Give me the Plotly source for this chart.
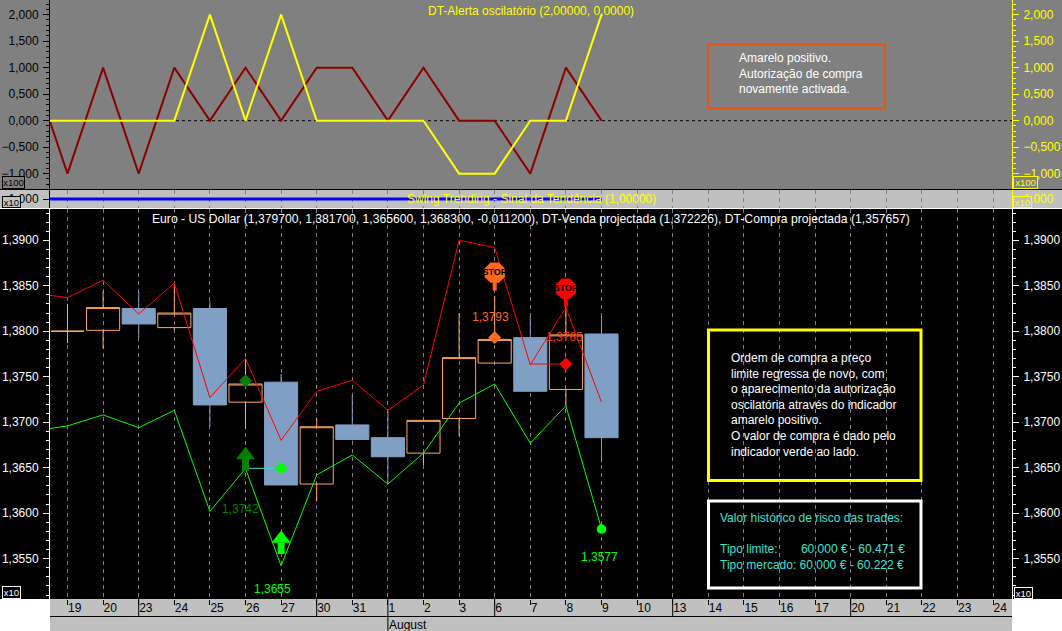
import plotly.graph_objects as go

# dates on the bottom axis
days = ["19", "20", "23", "24", "25", "26", "27", "30", "31", "1", "2", "3", "6", "7", "8", "9",
        "10", "13", "14", "15", "16", "17", "20", "21", "22", "23", "24"]
idx = list(range(len(days)))
week_starts = [2, 7, 12, 17, 22]
month_start = 9

# candles
open_ = [1.3800, 1.3801, 1.3825, 1.3804, 1.3825, 1.3722, 1.3744, 1.3632, 1.3697, 1.3683, 1.3666, 1.3704,
         1.3765, 1.3793, 1.3736, 1.3797]
high = [1.3830, 1.3844, 1.3844, 1.3853, 1.3833, 1.3770, 1.3753, 1.3704, 1.3730, 1.3712, 1.3702, 1.3820,
        1.3839, 1.3817, 1.3826, 1.3817]
low = [1.3787, 1.3781, 1.3793, 1.3801, 1.3695, 1.3693, 1.3631, 1.3613, 1.3680, 1.3633, 1.3653, 1.3685,
       1.3765, 1.3734, 1.3718, 1.3656]
close = [1.3800, 1.3826, 1.3808, 1.3820, 1.3719, 1.3742, 1.3631, 1.3695, 1.3681, 1.3662, 1.3702, 1.3771,
         1.3791, 1.3734, 1.3796, 1.3683]

# projected lines, they start one bar before the first visible date
line_x = list(range(-1, 16))
sell_line = [1.3842, 1.3837, 1.3856, 1.3819, 1.3853, 1.3727, 1.3770, 1.3680, 1.3734, 1.3746, 1.3713, 1.3741,
             1.3900, 1.3892, 1.3763, 1.3826, 1.3722]
buy_line = [1.3690, 1.3696, 1.3708, 1.3694, 1.3713, 1.3602, 1.3649, 1.3542, 1.3642, 1.3664, 1.3632, 1.3666,
            1.3721, 1.3742, 1.3677, 1.3718, 1.3583]

# oscillators
osc_red = [1, -1, 1, -1, 1, 0, 1, 0, 1, 1, 0, 1, 0, 0, -1, 1, 0]
osc_yellow = [0, 0, 0, 0, 0, 2, 0, 2, 0, 0, 0, 0, -1, -1, 0, 0, 2]
swing = [1, 1]

# signal markers
buy_diamond = [5, 1.37456]
buy_level = [5, 6, 1.36493]
sell_diamond = [12, 1.3793]
sell_level = [13, 14, 1.3764]
arrow_dark = [5, 1.36639, 1.36606, 1.36466]
arrow_bright = [6, 1.35719, 1.35675, 1.35551]
stop_orange = [12, 1.38644, 1.38446]
stop_red = [14, 1.38468, 1.3827]
last_buy = [15, 1.35825]

W, H = 1062, 631
L, R, B = 50, 1012, 599
BG_TOP = "#808080"
BG_MID = "#c0c0c0"
ORANGE = "#ffa860"
BLUE = "#7f9fc4"
TURQ = "#40e0d0"
FONT = "Liberation Sans"

x_range = [(L - 67.5) / 35.6, (R - 67.5) / 35.6]
main_range = [1.35056, 1.39344]
osc_range = [-1.289, 2.277]
swing_range = [0.45, 1.55]
swing_x = [x_range[0], 15]


def px(x):
    return (x - L) / (R - L)


def py(y):
    return 1 - y / B


fig = go.Figure()

# main panel
fig.add_trace(go.Candlestick(x=idx, open=open_, high=high, low=low, close=close, xaxis="x", yaxis="y",
                             whiskerwidth=0, hoverinfo="skip",
                             increasing=dict(line=dict(color=ORANGE, width=1), fillcolor="rgba(0,0,0,0)"),
                             decreasing=dict(line=dict(color=BLUE, width=1), fillcolor=BLUE)))


def main_trace(x, y, color, width=1, mode="lines", **kw):
    fig.add_trace(go.Scatter(x=x, y=y, mode=mode, line=dict(color=color, width=width), xaxis="x", yaxis="y2",
                             hoverinfo="skip", cliponaxis=True, **kw))


main_trace(line_x, sell_line, "#ff0000")
main_trace(line_x, buy_line, "#00ff00")
main_trace(buy_level[:2], [buy_level[2]] * 2, TURQ)
main_trace(sell_level[:2], [sell_level[2]] * 2, "#ff0000")


def diamond(x, y, color):
    fig.add_trace(go.Scatter(x=[x], y=[y], mode="markers", xaxis="x", yaxis="y2", hoverinfo="skip",
                             marker=dict(symbol="diamond", size=10, color=color)))


diamond(buy_diamond[0], buy_diamond[1], "#008000")
diamond(buy_level[1], buy_level[2], "#00ff00")
diamond(sell_diamond[0], sell_diamond[1], "#ff6a20")
diamond(sell_level[1], sell_level[2], "#ff0000")
fig.add_trace(go.Scatter(x=[last_buy[0]], y=[last_buy[1]], mode="markers", xaxis="x", yaxis="y2", hoverinfo="skip",
                         marker=dict(symbol="circle", size=9.5, color="#00ff00")))

# up arrows: shaft + head
for a, color in [(arrow_dark, "#008000"), (arrow_bright, "#00ff00")]:
    main_trace([a[0], a[0]], [a[3], a[2]], color, width=7)
    fig.add_trace(go.Scatter(x=[a[0]], y=[a[1]], mode="markers", xaxis="x", yaxis="y2", hoverinfo="skip",
                             marker=dict(symbol="triangle-up", size=16.5, color=color)))

# stop signs: pole + octagon
for s, color in [(stop_orange, "#ff6620"), (stop_red, "#ff0000")]:
    main_trace([s[0], s[0]], [s[1], s[2]], color, width=4)
    fig.add_trace(go.Scatter(x=[s[0]], y=[s[1]], mode="markers+text", xaxis="x", yaxis="y2", hoverinfo="skip",
                             marker=dict(symbol="octagon", size=22, color=color),
                             text=["<b>STOP</b>"], textposition="middle center",
                             textfont=dict(family="Liberation Sans Narrow, Liberation Sans", size=9, color="#000000")))

# swing panel
fig.add_trace(go.Scatter(x=swing_x, y=swing, mode="lines", line=dict(color="#0000ff", width=3), xaxis="x2", yaxis="y3",
                         hoverinfo="skip"))
fig.add_trace(go.Scatter(x=swing_x, y=swing, mode="lines", line=dict(color="rgba(0,0,0,0)", width=1), xaxis="x2",
                         yaxis="y4", hoverinfo="skip"))

# oscillator panel
fig.add_trace(go.Scatter(x=line_x, y=osc_red, mode="lines", line=dict(color="#8b0000", width=2), xaxis="x3",
                         yaxis="y5", hoverinfo="skip"))
fig.add_trace(go.Scatter(x=line_x, y=osc_yellow, mode="lines", line=dict(color="#ffff00", width=2), xaxis="x3",
                         yaxis="y6", hoverinfo="skip"))


def y_axis(color, rng, domain, dtick, fmt, minor=None, **kw):
    ax = dict(range=rng, domain=domain, tick0=0, dtick=dtick, tickformat=fmt, showgrid=False, zeroline=False,
              showline=True, linecolor=color, linewidth=1, ticks="outside", ticklen=6, tickcolor=color,
              tickfont=dict(family=FONT, size=12, color=color), ticklabelstandoff=2)
    if minor:
        ax["minor"] = dict(dtick=minor, ticks="outside", ticklen=3, tickcolor=color, showgrid=False)
    ax.update(kw)
    return ax


main_dom = [0, py(209)]
mid_dom = [py(208), py(190)]
top_dom = [py(189), 1]

grid = dict(showgrid=True, gridcolor="#808080", griddash="4px,4px", gridwidth=1, tickmode="array", tickvals=idx)

shapes = [
    dict(type="rect", xref="paper", yref="paper", x0=px(0), x1=px(W), y0=py(0), y1=py(189), fillcolor=BG_TOP,
         line_width=0, layer="below"),
    dict(type="rect", xref="paper", yref="paper", x0=px(0), x1=px(W), y0=py(189), y1=py(208), fillcolor=BG_MID,
         line_width=0, layer="below"),
    dict(type="rect", xref="paper", yref="paper", x0=px(0), x1=px(W), y0=py(208), y1=py(B), fillcolor="#000000",
         line_width=0, layer="below"),
    dict(type="rect", xref="paper", yref="paper", x0=0, x1=1, y0=py(B), y1=py(H), fillcolor=BG_MID,
         line_width=0, layer="below"),
    dict(type="line", xref="paper", yref="paper", x0=px(0), x1=px(W), y0=py(189.5), y1=py(189.5),
         line=dict(color="#000000", width=1)),
    dict(type="line", xref="paper", yref="paper", x0=px(0), x1=px(W), y0=py(208.5), y1=py(208.5),
         line=dict(color="#ffffff", width=1)),
    dict(type="line", xref="paper", yref="paper", x0=0, x1=1, y0=py(616.5), y1=py(616.5),
         line=dict(color="#000000", width=1)),
    dict(type="line", xref="x3 domain", yref="y5", x0=0, x1=1, y0=0, y1=0,
         line=dict(color="#000000", width=1, dash="3px,3px"), layer="below"),
    dict(type="rect", xref="paper", yref="paper", x0=px(708), x1=px(885), y0=py(44.5), y1=py(108.5),
         line=dict(color="#e8540f", width=2)),
    dict(type="rect", xref="paper", yref="paper", x0=px(708.5), x1=px(921), y0=py(330), y1=py(480.5),
         line=dict(color="#ffff00", width=3)),
    dict(type="rect", xref="paper", yref="paper", x0=px(708.5), x1=px(921), y0=py(501), y1=py(588),
         line=dict(color="#ffffff", width=3)),
]
for i in week_starts:
    shapes.append(dict(type="line", xref="x", yref="paper", x0=i, x1=i, y0=py(B), y1=py(616),
                       line=dict(color="#000000", width=1)))
shapes.append(dict(type="line", xref="x", yref="paper", x0=month_start, x1=month_start, y0=py(B), y1=py(H),
                   line=dict(color="#000000", width=1)))


def text(x, y, s, color, anchor="center", size=12):
    return dict(xref="paper", yref="paper", x=px(x), y=py(y), text=s, showarrow=False, xanchor=anchor,
                yanchor="middle", align="left", font=dict(family=FONT, size=size, color=color),
                borderpad=0, borderwidth=0)


def scale_box(x0, x1, y0, y1, s, color, fill):
    # the little x10 / x100 boxes in the margins
    return dict(xref="paper", yref="paper", x=px((x0 + x1) / 2), y=py((y0 + y1) / 2), text=s, showarrow=False,
                xanchor="center", yanchor="middle", width=x1 - x0 - 2, height=y1 - y0 - 2, bgcolor=fill,
                bordercolor=color, borderwidth=1, borderpad=0,
                font=dict(family=FONT, size=9.5, color=color))


annotations = [
    text(531, 11, "DT-Alerta oscilatório (2,00000, 0,0000)", "#ffff00"),
    text(531, 199, "Swing Trending - Sinal da Tendência (1,00000)", "#ffff00"),
    text(531, 219, "Euro - US Dollar (1,379700, 1,381700, 1,365600, 1,368300, -0,011200), "
                   "DT-Venda projectada (1,372226), DT-Compra projectada (1,357657)", "#ffffff", size=12.15),
    text(738.5, 73.5, "Amarelo positivo.<br>Autorização de compra<br>novamente activada.", "#ffffff", "left"),
    text(731, 405, "Ordem de compra a preço<br>limite regressa de novo, com<br>o aparecimento da autorização<br>"
                   "oscilatória através do indicador<br>amarelo positivo.<br>O valor de compra é dado pelo<br>"
                   "indicador verde ao lado.", "#ffffff", "left"),
    text(720, 541, "Valor histórico de risco das trades:<br> <br>Tipo limite:\u00a0\u00a0\u00a0\u00a0\u00a0\u00a0\u00a0"
                   "60.000 € - 60.471 €<br>Tipo mercado: 60.000 € - 60.222 €", TURQ, "left"),
    text(240, 508.7, "1,3742", "#008000"),
    text(272, 588.7, "1,3655", "#00ff00"),
    text(490, 316.7, "1,3793", "#ff6a20"),
    text(564, 336.7, "1,3765", "#ff3010"),
    text(599, 556.7, "1,3577", "#00ff00"),
    text(389, 624.5, "August", "#000000", "left"),
    scale_box(2, 25, 176, 189, "x100", "#000000", BG_TOP),
    scale_box(2, 21, 196, 208, "x10", "#000000", BG_MID),
    scale_box(2, 21, 586, 599, "x10", "#ffffff", "#000000"),
    scale_box(1013, 1038, 176, 189, "x100", "#ffff00", BG_TOP),
    scale_box(1013, 1032, 196, 208, "x10", "#ffff00", BG_MID),
    scale_box(1014, 1033, 587, 599, "x10", "#ffffff", "#000000"),
]

fig.update_layout(
    width=W, height=H, margin=dict(l=L, r=W - R, t=0, b=H - B, pad=0), autosize=False,
    paper_bgcolor="#ffffff", plot_bgcolor="rgba(0,0,0,0)", showlegend=False, separators=",.",
    boxgap=0.07, boxgroupgap=0, shapes=shapes, annotations=annotations,
    xaxis=dict(range=x_range, anchor="y", domain=[0, 1], rangeslider=dict(visible=False), ticktext=days,
               ticks="outside", ticklen=5, tickcolor="#000000", ticklabelposition="outside right",
               ticklabelstandoff=-2,
               tickfont=dict(family=FONT, size=12, color="#000000"), showline=False, zeroline=False, **grid),
    xaxis2=dict(range=x_range, anchor="y3", domain=[0, 1], showticklabels=False, ticks="", showline=False,
                zeroline=False, **grid),
    xaxis3=dict(range=x_range, anchor="y5", domain=[0, 1], visible=False),
    yaxis=y_axis("#ffffff", main_range, main_dom, 0.005, ".4f", minor=0.001, tick0=1.35),
    yaxis2=y_axis("#ffffff", main_range, main_dom, 0.005, ".4f", minor=0.001, tick0=1.35, side="right",
                  overlaying="y", anchor="x"),
    yaxis3=y_axis("#000000", swing_range, mid_dom, 1, ".3f", anchor="x2"),
    yaxis4=y_axis("#ffff00", swing_range, mid_dom, 1, ".3f", side="right", overlaying="y3", anchor="x2"),
    yaxis5=y_axis("#000000", osc_range, top_dom, 0.5, ".3f", minor=0.1, anchor="x3"),
    yaxis6=y_axis("#ffff00", osc_range, top_dom, 0.5, ".3f", minor=0.1, side="right", overlaying="y5", anchor="x3"),
)

# the page's default body margin would push the fixed-size figure off the window
fig.write_html("out.html", config={"displayModeBar": False},
               post_script="document.body.style.margin='0';document.documentElement.style.overflow='hidden';")
